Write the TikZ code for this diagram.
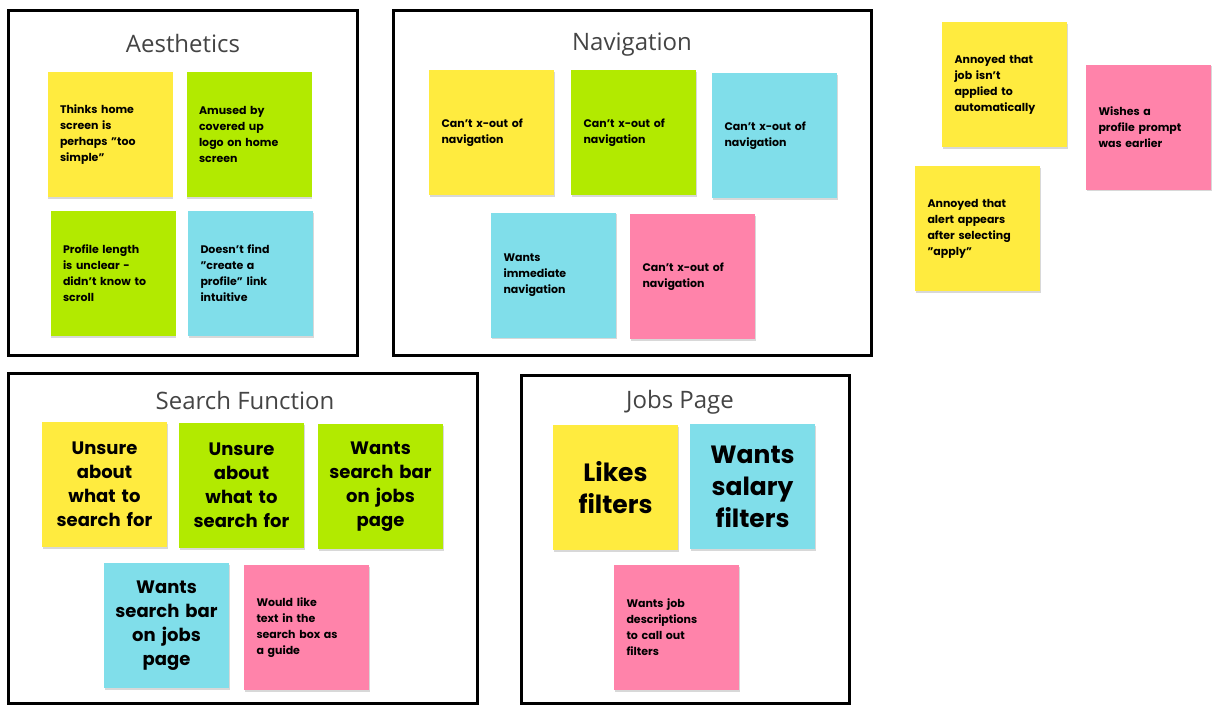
\documentclass[tikz,border=0pt]{standalone}
\usepackage{fontspec}
\setmainfont{Poppins}
\newfontfamily\titlefont{Open Sans}
\usetikzlibrary{shadows}
\definecolor{sy}{HTML}{FFEB3F}
\definecolor{sg}{HTML}{B2EA00}
\definecolor{sc}{HTML}{80DEEA}
\definecolor{sp}{HTML}{FF83AA}
\definecolor{tt}{HTML}{444444}
\begin{document}
\begin{tikzpicture}[x=1pt,y=-1pt,
  frame/.style={draw=black,line width=3pt},
  title/.style={font=\titlefont\fontsize{24}{28}\selectfont,text=tt},
  note/.style={minimum width=125pt,minimum height=125pt,inner sep=0pt,
    drop shadow={shadow xshift=0.8pt,shadow yshift=-1.5pt,fill=black!30}},
  small/.style={note,text width=100pt,align=left,font=\bfseries\fontsize{11}{16}\selectfont},
  big/.style={note,text width=125pt,align=center,font=\bfseries\fontsize{18}{24}\selectfont},
  huge/.style={note,text width=125pt,align=center,font=\bfseries\fontsize{25}{32}\selectfont}]
\useasboundingbox (0,0) rectangle (1218,712);
% frames
\node[frame,minimum width=349pt,minimum height=345pt] (fa) at (182.5,182.5) {};
\node[frame,minimum width=478pt,minimum height=345pt] (fn) at (632,182.5) {};
\node[frame,minimum width=469pt,minimum height=330pt] (fs) at (242.5,538) {};
\node[frame,minimum width=328pt,minimum height=328pt] (fj) at (685,539) {};
\node[title] (ta) at (183,43) {Aesthetics};
\node[title] (tn) at (632,45) {Navigation};
\node[title] (ts) at (245,400) {Search Function};
\node[title] (tj) at (680,402) {Jobs Page};
% Aesthetics
\node[small,fill=sy] (a1) at (110,134.5) {Thinks home\\screen is\\perhaps "too\\simple"};
\node[small,fill=sg] (a2) at (249,134.5) {Amused by\\covered up\\logo on home\\screen};
\node[small,fill=sg] (a3) at (113,273.5) {Profile length\\is unclear -\\didn't know to\\scroll};
\node[small,fill=sc] (a4) at (250.5,273.5) {Doesn't find\\"create a\\profile" link\\intuitive};
% Navigation
\node[small,fill=sy] (n1) at (491.5,132.5) {Can't x-out of\\navigation};
\node[small,fill=sg] (n2) at (633.5,132.5) {Can't x-out of\\navigation};
\node[small,fill=sc] (n3) at (774.5,135.5) {Can't x-out of\\navigation};
\node[small,fill=sc] (n4) at (553.5,275) {Wants\\immediate\\navigation};
\node[small,fill=sp] (n5) at (692.5,276.5) {Can't x-out of\\navigation};
% Outside
\node[small,fill=sy] (o1) at (1004.5,84.5) {Annoyed that\\job isn't\\applied to\\automatically};
\node[small,fill=sp] (o2) at (1148.5,127) {Wishes a\\profile prompt\\was earlier};
\node[small,fill=sy] (o3) at (977.5,228.5) {Annoyed that\\alert appears\\after selecting\\"apply"};
% Search
\node[big,fill=sy] (s1) at (104.5,484.5) {Unsure\\about\\what to\\search for};
\node[big,fill=sg] (s2) at (241.5,485.5) {Unsure\\about\\what to\\search for};
\node[big,fill=sg] (s3) at (380.5,486.5) {Wants\\search bar\\on jobs\\page};
\node[big,fill=sc] (s4) at (166.5,625.5) {Wants\\search bar\\on jobs\\page};
\node[small,fill=sp] (s5) at (306.5,627.5) {Would like\\text in the\\search box as\\a guide};
% Jobs
\node[huge,fill=sy] (j1) at (615.5,487.5) {Likes\\filters};
\node[huge,fill=sc] (j2) at (752.5,486.5) {Wants\\salary\\filters};
\node[small,fill=sp] (j3) at (676.5,627.5) {Wants job\\descriptions\\to call out\\filters};
\end{tikzpicture}
\end{document}
